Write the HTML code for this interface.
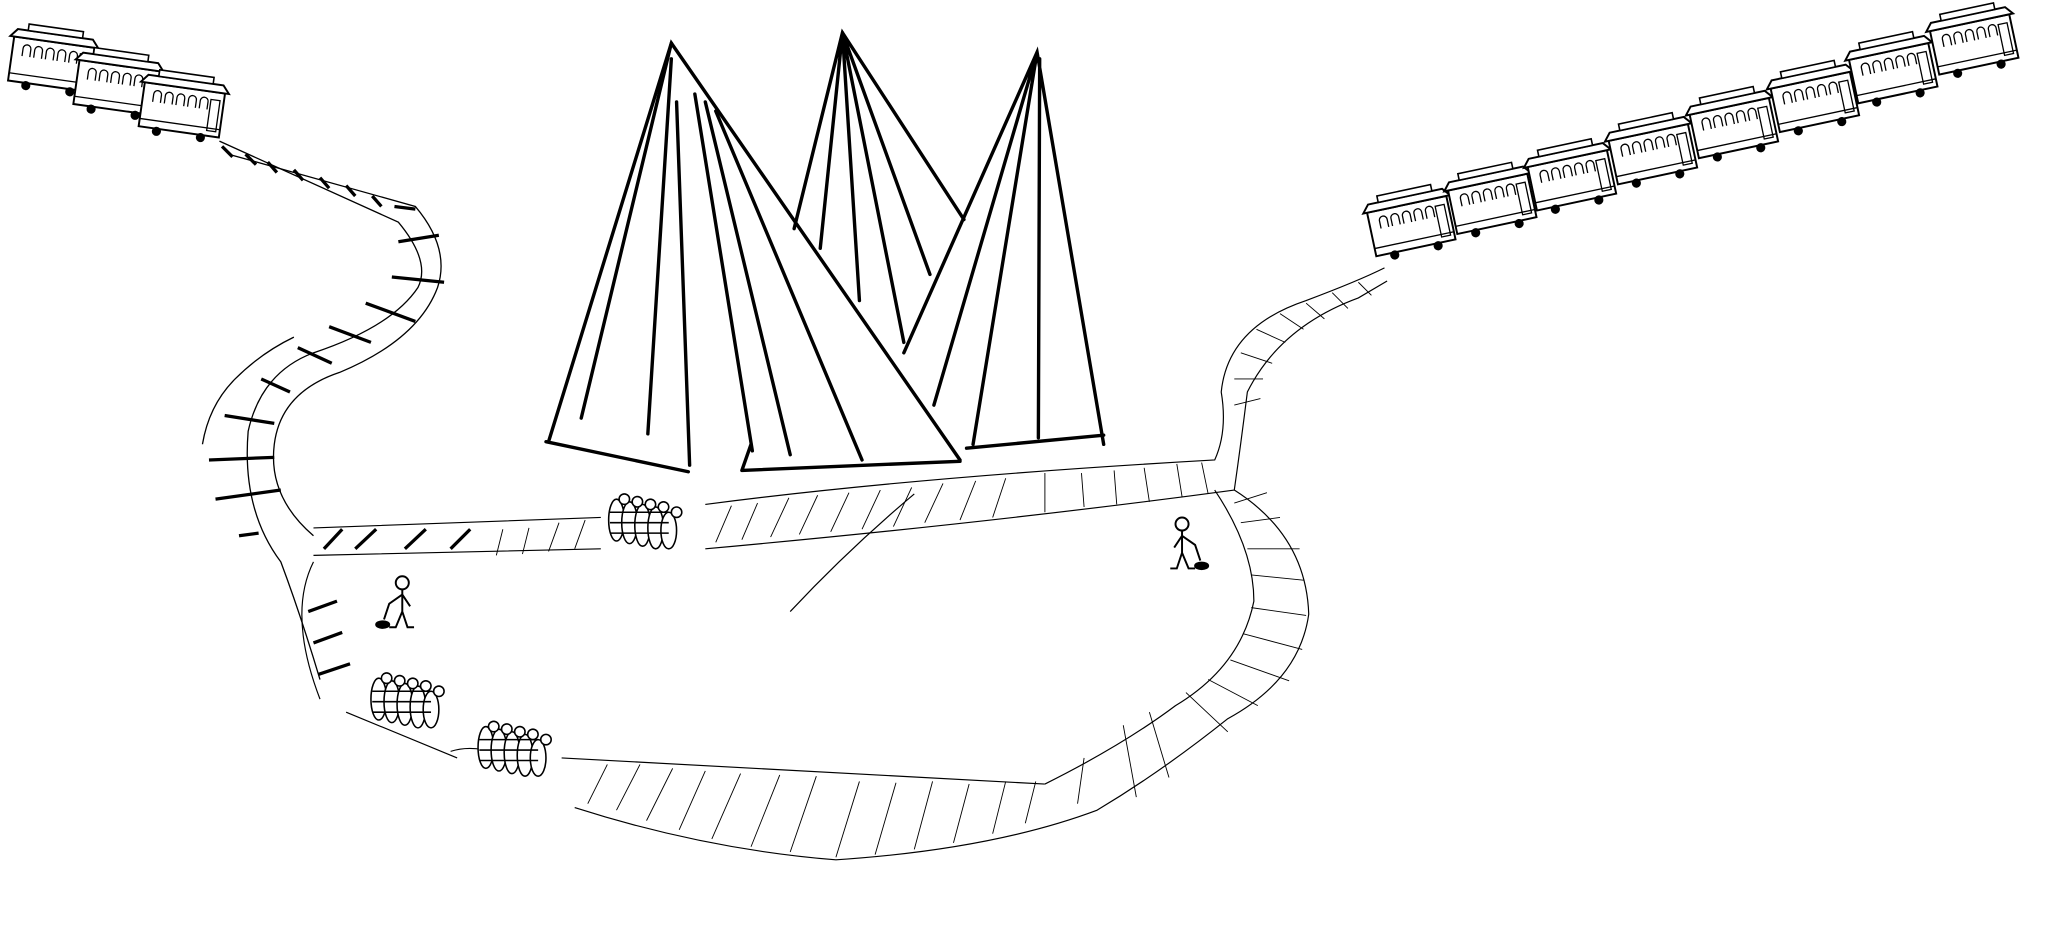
<!DOCTYPE html>
<html><head><meta charset="utf-8"><style>
html,body{margin:0;padding:0;background:#fff;width:2048px;height:950px;overflow:hidden}
svg{display:block}
</style></head><body>
<svg width="2048" height="950" viewBox="0 0 1568 727" preserveAspectRatio="none" xmlns="http://www.w3.org/2000/svg">
<defs>
<g id="car">
<rect x="0" y="8" width="62" height="34" fill="#fff" stroke="#000" stroke-width="1.5"/>
<path d="M-3 8 L65 8 L60 2 L2 2 Z" fill="#fff" stroke="#000" stroke-width="1.5"/>
<rect x="10" y="-3" width="42" height="5" fill="#fff" stroke="#000" stroke-width="1.2"/>
<g fill="none" stroke="#000" stroke-width="1">
<path d="M8 22 v-6 a3 3 0 0 1 6 0 v6 M17 22 v-6 a3 3 0 0 1 6 0 v6 M26 22 v-6 a3 3 0 0 1 6 0 v6 M35 22 v-6 a3 3 0 0 1 6 0 v6 M44 22 v-6 a3 3 0 0 1 6 0 v6"/>
<rect x="52" y="14" width="7" height="24"/>
<line x1="0" y1="36" x2="62" y2="36"/>
</g>
<circle cx="14" cy="44" r="3.5" fill="#000"/><circle cx="48" cy="44" r="3.5" fill="#000"/>
</g>
<g id="crowd" stroke="#000" stroke-width="1.2" fill="#fff">
<ellipse cx="10" cy="20" rx="6" ry="16"/><ellipse cx="20" cy="22" rx="6" ry="16"/><ellipse cx="30" cy="24" rx="6" ry="16"/><ellipse cx="40" cy="26" rx="6" ry="16"/><ellipse cx="50" cy="28" rx="6" ry="14"/>
<circle cx="16" cy="4" r="4"/><circle cx="26" cy="6" r="4"/><circle cx="36" cy="8" r="4"/><circle cx="46" cy="10" r="4"/><circle cx="56" cy="14" r="4"/>
<path d="M5 14 h45 M5 22 h45 M5 30 h45" fill="none"/>
</g>
<g id="man" stroke="#000" stroke-width="1.5" fill="none">
<circle cx="18" cy="6" r="5" fill="#fff"/>
<path d="M18 11 L18 28 M18 28 L13 40 L8 40 M18 28 L22 40 L27 40 M18 15 L8 22 L4 34 M18 15 L24 24"/>
<ellipse cx="3" cy="38" rx="5" ry="2.5" fill="#000"/>
</g>
</defs>

<g transform="translate(12,20) rotate(8)"><use href="#car"/></g>
<g transform="translate(62,38) rotate(8)"><use href="#car"/></g>
<g transform="translate(112,55) rotate(8)"><use href="#car"/></g>

<g transform="translate(1045,155) rotate(-12)"><use href="#car"/></g>
<g transform="translate(1107,138) rotate(-12)"><use href="#car"/></g>
<g transform="translate(1168,120) rotate(-12)"><use href="#car"/></g>
<g transform="translate(1230,100) rotate(-12)"><use href="#car"/></g>
<g transform="translate(1292,80) rotate(-12)"><use href="#car"/></g>
<g transform="translate(1354,60) rotate(-12)"><use href="#car"/></g>
<g transform="translate(1414,38) rotate(-12)"><use href="#car"/></g>
<g transform="translate(1476,16) rotate(-12)"><use href="#car"/></g>

<g fill="none" stroke="#000" stroke-width="1">
<path d="M168 108 L305 170 Q330 200 320 220 Q300 250 240 270 Q200 285 190 330 Q185 390 215 430 Q230 470 245 520"/>
<path d="M175 118 L318 158 Q345 190 335 220 Q320 260 260 285 Q215 300 210 340 Q205 380 240 410"/>
<path d="M155 340 Q160 310 180 290 Q200 270 225 258"/>
</g>
<g stroke="#000" stroke-width="2.5">
<line x1="170" y1="112" x2="178" y2="120"/><line x1="188" y1="118" x2="196" y2="126"/><line x1="205" y1="124" x2="212" y2="132"/><line x1="225" y1="130" x2="232" y2="138"/><line x1="245" y1="136" x2="252" y2="144"/><line x1="265" y1="142" x2="272" y2="150"/><line x1="285" y1="150" x2="292" y2="158"/><line x1="302" y1="158" x2="318" y2="160"/>
<line x1="305" y1="185" x2="336" y2="180"/><line x1="300" y1="212" x2="340" y2="216"/><line x1="280" y1="232" x2="318" y2="246"/><line x1="252" y1="250" x2="284" y2="262"/><line x1="228" y1="266" x2="254" y2="278"/><line x1="200" y1="290" x2="222" y2="300"/><line x1="172" y1="318" x2="210" y2="324"/><line x1="160" y1="352" x2="210" y2="350"/><line x1="165" y1="382" x2="215" y2="375"/><line x1="183" y1="410" x2="198" y2="408"/>
<line x1="248" y1="420" x2="262" y2="405"/><line x1="272" y1="420" x2="288" y2="405"/><line x1="310" y1="420" x2="326" y2="405"/><line x1="345" y1="420" x2="360" y2="405"/>
<line x1="236" y1="468" x2="258" y2="460"/><line x1="240" y1="492" x2="262" y2="484"/><line x1="244" y1="516" x2="268" y2="508"/>
</g>

<g fill="none" stroke="#000" stroke-width="0.9">
<path d="M240 404 L460 396 M540 386 Q700 365 930 352 Q940 330 935 300 Q940 250 1000 230 Q1040 215 1060 205"/>
<path d="M240 425 L460 420 M540 420 Q760 400 945 375 Q950 340 955 300 Q980 250 1040 228 L1062 215"/>
<path d="M930 375 Q960 420 960 460 Q950 510 900 540 Q860 570 800 600 M945 375 Q1000 410 1002 470 Q995 520 940 550 Q890 590 840 620 Q760 650 640 658 Q540 650 440 618"/>
<path d="M345 575 Q360 570 380 576 M430 580 Q600 590 800 600 M350 580 L265 545 M240 430 Q220 470 245 535"/>
<path d="M605 468 Q650 420 700 378"/>
</g>
<g stroke="#000" stroke-width="0.7">
<path d="M548 415 l12 -28 M568 413 l12 -28 M590 411 l14 -30 M612 409 l14 -30 M636 407 l14 -30 M660 405 l14 -30 M684 403 l14 -30 M708 400 l14 -30 M735 398 l12 -30 M760 396 l10 -30 M800 392 l0 -30 M830 388 l-2 -26 M855 386 l-2 -26 M880 384 l-4 -26 M905 380 l-4 -25 M925 378 l-5 -24"/>
<path d="M945 310 l20 -5 M945 290 l22 0 M950 270 l24 8 M962 252 l22 10 M980 240 l18 12 M1000 232 l14 12 M1020 224 l12 12 M1040 216 l10 10"/>
<path d="M945 385 l25 -8 M950 400 l30 -4 M955 420 l40 0 M958 440 l40 4 M958 465 l42 6 M952 485 l45 12 M942 505 l45 16 M925 520 l38 20 M908 530 l32 30 M880 545 l15 50 M860 555 l10 55 M830 580 l-5 35"/>
<path d="M450 615 l15 -30 M472 620 l18 -35 M495 628 l20 -40 M520 635 l20 -45 M545 642 l22 -50 M575 648 l22 -55 M605 652 l20 -58 M640 656 l18 -58 M670 654 l16 -55 M700 650 l14 -52 M730 645 l12 -45 M760 638 l10 -40 M785 630 l8 -32"/>
<path d="M380 425 l5 -20 M400 424 l5 -20 M420 422 l8 -22 M440 420 l8 -22"/>
</g>

<g fill="none" stroke="#000" stroke-width="2.6" stroke-linecap="round">
<path d="M420 338 L514 33 L735 352 M418 338 L527 361 M568 360 L735 353 M568 360 L575 340"/>
<path d="M514 33 L445 320 M514 45 L496 332 M518 78 L528 356 M532 72 L576 345 M540 78 L605 348 M548 85 L660 352"/>
<path d="M608 175 L645 25 L738 168 M645 25 L628 190 M645 25 L658 230 M645 25 L692 262 M645 25 L712 210"/>
<path d="M692 270 L794 40 L845 340 M740 343 L845 333 M794 40 L715 310 M794 40 L745 340 M796 45 L795 335"/>
</g>

<use href="#crowd" transform="translate(462,378)"/>
<use href="#crowd" transform="translate(280,515)"/>
<use href="#crowd" transform="translate(362,552)"/>

<use href="#man" transform="translate(290,440)"/>
<use href="#man" transform="translate(885,395) scale(-1,1) translate(-38,0)"/>
</svg>
</body></html>
